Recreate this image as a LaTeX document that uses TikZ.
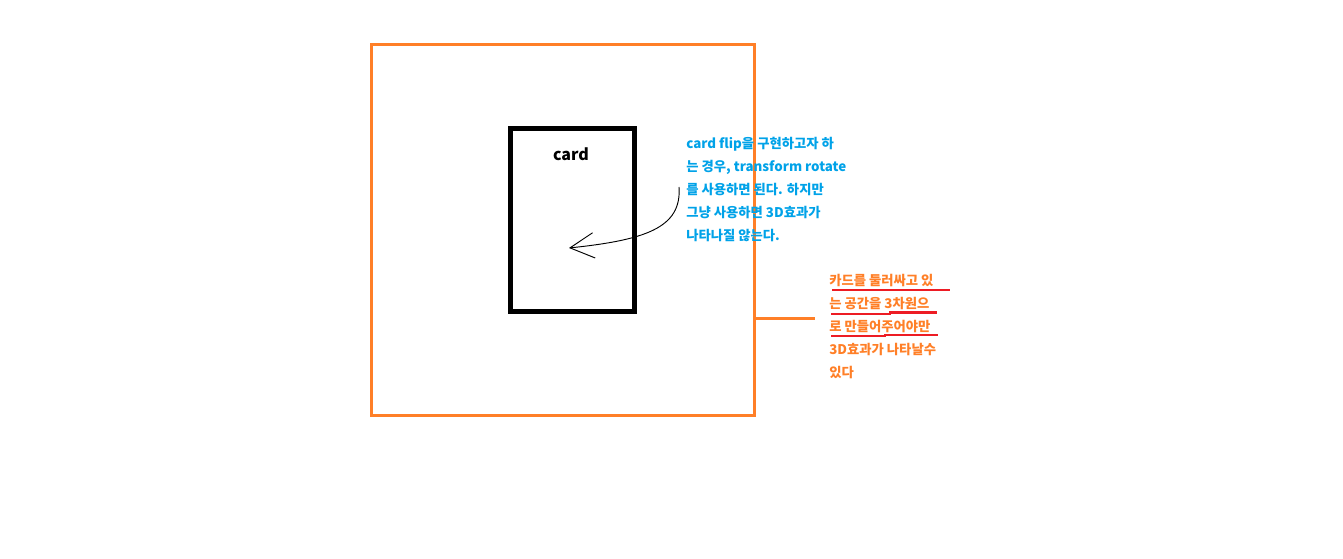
\documentclass[tikz,border=0pt]{standalone}
\usepackage{fontspec}
\usepackage{tikz}
\usetikzlibrary{arrows.meta, positioning}
\newfontfamily\krfont{Noto Sans CJK KR}
\definecolor{paintorange}{RGB}{255, 127, 39}
\definecolor{paintblue}{RGB}{0, 162, 232}
\definecolor{paintred}{RGB}{237, 28, 36}

\begin{document}
\begin{tikzpicture}[x=0.75pt, y=-0.75pt, every node/.style={font=\krfont\bfseries\fontsize{10}{17.25}\selectfont, inner sep=0pt}]
                    \useasboundingbox (0,0) rectangle (1343,559);
                    \node[draw=paintorange, line width=2.25pt, minimum width=287.25pt, minimum height=278.6pt] (space) at (563,230.25) {};
                    \node[draw=black, line width=3.75pt, minimum width=93pt, minimum height=137.25pt] (card) at (572.5,220) {};
                    \node[font=\krfont\bfseries\fontsize{12}{14}\selectfont] (cardname) at (571,154) {card};
                    \node[text=paintblue, align=left, anchor=base west] (flipnote) at (686,241) {card flip을 구현하고자 하\\는 경우, transform rotate\\를 사용하면 된다. 하지만\\그냥 사용하면 3D효과가\\나타나질 않는다.};
                    \node[text=paintorange, align=left, anchor=base west] (spacenote) at (829,378) {카드를 둘러싸고 있\\는 공간을 3차원으\\로 만들어주어야만\\3D효과가 나타날수\\있다};
                    \coordinate (from) at (679,187);
                    \coordinate (tip) at (569,248);
                    \coordinate (tail) at (815,319);
                    \draw[-{Straight Barb[length=18pt, width=19pt]}, line width=0.7pt] (from) .. controls (682,228) and (645,240) .. (tip);
                    \draw[paintorange, line width=2.25pt] (tail -| space.east) -- (tail);
                    \draw[paintred, line width=2pt] (832,290) -- (950,290);
                    \draw[paintred, line width=2pt] (831,314) -- (890,314) -- (890,312.5) -- (937,312.5);
                    \draw[paintred, line width=2pt] (831,336) -- (885,336) -- (885,335) -- (938,335);
                \end{tikzpicture}
\end{document}
